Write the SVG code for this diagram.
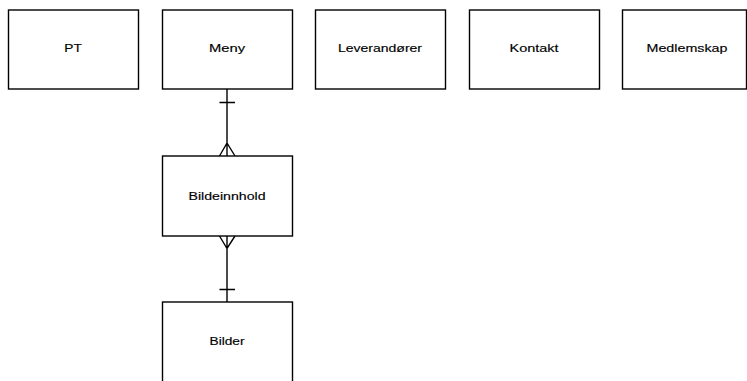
<svg xmlns="http://www.w3.org/2000/svg" width="747" height="381" viewBox="0 0 747 381">
  <style>
    .box { fill: #ffffff; stroke: #000000; stroke-width: 1.4; }
    .lbl { font-family: "Liberation Sans", Arial, sans-serif; font-size: 11.5px; fill: #000000; stroke: #000000; stroke-width: 0.15; text-anchor: middle; }
    .edge { fill: none; stroke: #000000; stroke-width: 1.4; }
  </style>
  <rect width="747" height="381" fill="#ffffff"/>

  <g id="connectors">
    <!-- Meny (one) to Bildeinnhold (many) -->
    <path class="edge" d="M227,89 V156 M219.5,102.5 H235 M219.5,156 L227,143 L235,156"/>
    <!-- Bildeinnhold (many) to Bilder (one) -->
    <path class="edge" d="M227,236 V302 M219.5,289.5 H235 M219.5,236 L227,248.5 L235,236"/>
  </g>

  <g id="node-pt">
    <rect class="box" x="8.5" y="10" width="130" height="79"/>
    <text class="lbl" x="73" y="51.5" textLength="17.5" lengthAdjust="spacingAndGlyphs">PT</text>
  </g>
  <g id="node-meny">
    <rect class="box" x="162.5" y="10" width="130" height="79"/>
    <text class="lbl" x="227" y="51.5" textLength="36" lengthAdjust="spacingAndGlyphs">Meny</text>
  </g>
  <g id="node-leverandorer">
    <rect class="box" x="315.5" y="10" width="130" height="79"/>
    <text class="lbl" x="380" y="51.5" textLength="84" lengthAdjust="spacingAndGlyphs">Leverandører</text>
  </g>
  <g id="node-kontakt">
    <rect class="box" x="469.5" y="10" width="130" height="79"/>
    <text class="lbl" x="534" y="51.5" textLength="49" lengthAdjust="spacingAndGlyphs">Kontakt</text>
  </g>
  <g id="node-medlemskap">
    <rect class="box" x="622.5" y="10" width="124" height="79"/>
    <text class="lbl" x="687" y="51.5" textLength="81" lengthAdjust="spacingAndGlyphs">Medlemskap</text>
  </g>
  <g id="node-bildeinnhold">
    <rect class="box" x="162.5" y="156" width="130" height="80"/>
    <text class="lbl" x="227" y="199.5" textLength="77" lengthAdjust="spacingAndGlyphs">Bildeinnhold</text>
  </g>
  <g id="node-bilder">
    <rect class="box" x="162.5" y="302" width="130" height="82"/>
    <text class="lbl" x="227" y="345" textLength="35" lengthAdjust="spacingAndGlyphs">Bilder</text>
  </g>
</svg>
